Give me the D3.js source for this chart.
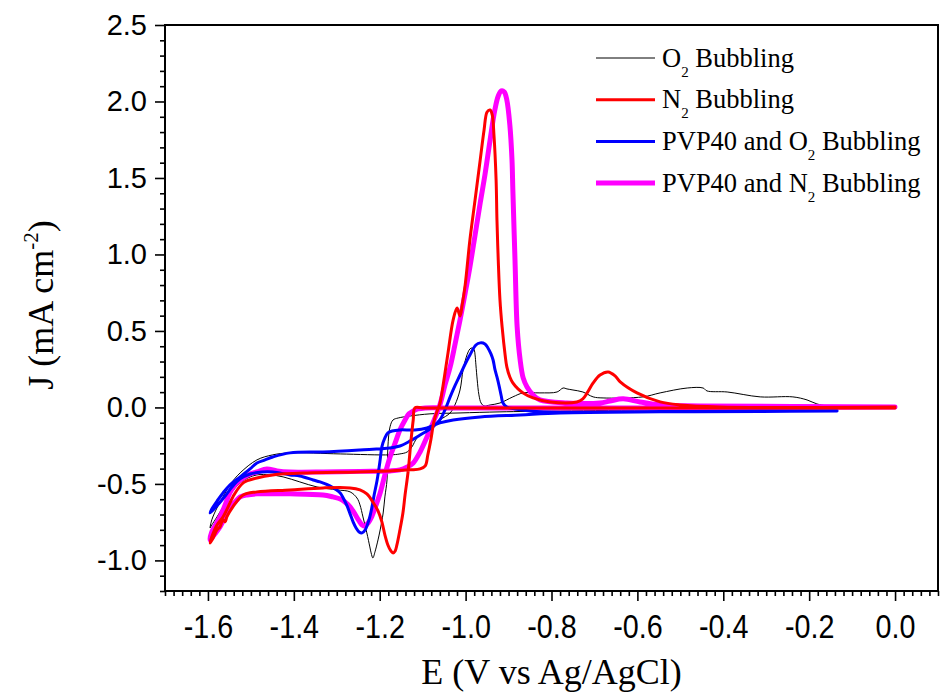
<!DOCTYPE html>
<html>
<head>
<meta charset="utf-8">
<script src="https://cdn.jsdelivr.net/npm/d3@7"></script>
<style>
  body { margin: 0; background: #fff; }
  svg { display: block; }
</style>
</head>
<body>
<svg id="chart" width="940" height="693"></svg>
<script>
// Axis ticks
const xTickValues = [-1.6, -1.4, -1.2, -1.0, -0.8, -0.6, -0.4, -0.2, 0.0];
const yTickValues = [-1.0, -0.5, 0.0, 0.5, 1.0, 1.5, 2.0, 2.5];

// Legend labels split as [text, subscript, text]
const seriesLabels = [
  ["O", "2", " Bubbling"],
  ["N", "2", " Bubbling"],
  ["PVP40 and O", "2", " Bubbling"],
  ["PVP40 and N", "2", " Bubbling"]
];

// Cyclic voltammograms: [E (V vs Ag/AgCl), J (mA cm^-2)], cathodic sweep then anodic return
const o2Bubbling = [
  [0.000, 0.003], [-0.158, -0.003], [-0.314, -0.010], [-0.547, -0.016], [-0.780, -0.023],
  [-0.920, -0.029], [-1.013, -0.036], [-1.083, -0.042], [-1.129, -0.056], [-1.157, -0.069],
  [-1.169, -0.082], [-1.176, -0.127], [-1.181, -0.258], [-1.183, -0.474], [-1.188, -0.585],
  [-1.192, -0.690], [-1.199, -0.801], [-1.204, -0.866], [-1.211, -0.944], [-1.216, -0.984],
  [-1.220, -0.951], [-1.223, -0.912], [-1.230, -0.820], [-1.239, -0.716], [-1.246, -0.637],
  [-1.253, -0.592], [-1.269, -0.552], [-1.299, -0.539], [-1.346, -0.520], [-1.386, -0.487],
  [-1.425, -0.454], [-1.455, -0.441], [-1.486, -0.441], [-1.507, -0.461], [-1.525, -0.493],
  [-1.549, -0.572], [-1.565, -0.650], [-1.579, -0.716], [-1.591, -0.768], [-1.595, -0.788],
  [-1.591, -0.735], [-1.579, -0.657], [-1.565, -0.585], [-1.549, -0.507], [-1.525, -0.428],
  [-1.486, -0.343], [-1.449, -0.310], [-1.409, -0.297], [-1.292, -0.304], [-1.176, -0.310],
  [-1.153, -0.304], [-1.136, -0.291], [-1.125, -0.258], [-1.113, -0.199], [-1.090, -0.147],
  [-1.060, -0.082], [-1.036, -0.036], [-1.025, 0.016], [-1.013, 0.114], [-1.006, 0.245],
  [-0.999, 0.324], [-0.994, 0.363], [-0.990, 0.382], [-0.985, 0.389], [-0.980, 0.376],
  [-0.978, 0.343], [-0.976, 0.278], [-0.973, 0.180], [-0.969, 0.082], [-0.964, 0.029],
  [-0.957, 0.010], [-0.943, 0.016], [-0.920, 0.029], [-0.890, 0.069], [-0.866, 0.095],
  [-0.827, 0.095], [-0.787, 0.101], [-0.773, 0.127], [-0.764, 0.121], [-0.750, 0.114],
  [-0.727, 0.101], [-0.703, 0.069], [-0.680, 0.062], [-0.587, 0.069], [-0.547, 0.095],
  [-0.484, 0.127], [-0.447, 0.127], [-0.438, 0.108], [-0.391, 0.101], [-0.314, 0.069],
  [-0.238, 0.069], [-0.205, 0.049], [-0.182, 0.023], [-0.158, 0.010], [-0.105, 0.003],
  [0.000, 0.003]
];

const n2Bubbling = [
  [0.000, -0.003], [-0.400, -0.003], [-0.800, -0.003], [-1.000, -0.003], [-1.100, -0.003],
  [-1.118, -0.003], [-1.122, -0.082], [-1.127, -0.212], [-1.134, -0.422], [-1.141, -0.572],
  [-1.146, -0.690], [-1.153, -0.801], [-1.160, -0.899], [-1.164, -0.938], [-1.169, -0.951],
  [-1.174, -0.938], [-1.181, -0.899], [-1.188, -0.833], [-1.195, -0.748], [-1.204, -0.676],
  [-1.216, -0.618], [-1.230, -0.565], [-1.246, -0.539], [-1.269, -0.526], [-1.332, -0.526],
  [-1.409, -0.539], [-1.486, -0.552], [-1.518, -0.572], [-1.542, -0.650], [-1.556, -0.716],
  [-1.560, -0.748], [-1.565, -0.735], [-1.572, -0.781], [-1.579, -0.801], [-1.588, -0.853],
  [-1.595, -0.886],
  [-1.591, -0.846], [-1.579, -0.768], [-1.565, -0.716], [-1.553, -0.650], [-1.542, -0.585],
  [-1.518, -0.493], [-1.486, -0.461], [-1.449, -0.441], [-1.369, -0.428], [-1.253, -0.422],
  [-1.176, -0.415], [-1.129, -0.408], [-1.106, -0.402], [-1.094, -0.382], [-1.088, -0.310],
  [-1.081, -0.212], [-1.074, -0.095], [-1.067, -0.029], [-1.060, 0.023], [-1.053, 0.134],
  [-1.041, 0.356], [-1.029, 0.572], [-1.020, 0.650], [-1.013, 0.598], [-1.008, 0.670],
  [-1.001, 0.801], [-0.990, 1.095], [-0.978, 1.356], [-0.966, 1.618], [-0.957, 1.814],
  [-0.950, 1.931], [-0.943, 1.944], [-0.938, 1.912], [-0.934, 1.781], [-0.929, 1.487],
  [-0.927, 1.225], [-0.924, 0.964], [-0.920, 0.703], [-0.915, 0.526], [-0.908, 0.343],
  [-0.904, 0.265], [-0.897, 0.199], [-0.890, 0.160], [-0.878, 0.121], [-0.866, 0.095],
  [-0.843, 0.062], [-0.803, 0.036], [-0.741, 0.036], [-0.727, 0.056], [-0.717, 0.095],
  [-0.703, 0.160], [-0.687, 0.212], [-0.668, 0.232], [-0.652, 0.206], [-0.640, 0.167],
  [-0.601, 0.095], [-0.547, 0.036], [-0.501, 0.016], [-0.408, 0.003], [0.000, 0.003]
];

const pvpO2Bubbling = [
  [-0.135, -0.023], [-0.314, -0.026], [-0.547, -0.029], [-0.780, -0.036], [-0.873, -0.049],
  [-0.966, -0.062], [-1.029, -0.082], [-1.060, -0.101], [-1.090, -0.134], [-1.118, -0.147],
  [-1.153, -0.147], [-1.171, -0.154], [-1.181, -0.167], [-1.188, -0.199], [-1.195, -0.258],
  [-1.199, -0.343], [-1.206, -0.474], [-1.213, -0.572], [-1.218, -0.650], [-1.225, -0.735],
  [-1.234, -0.801], [-1.241, -0.820], [-1.248, -0.814], [-1.255, -0.788], [-1.262, -0.748],
  [-1.269, -0.696], [-1.276, -0.644], [-1.285, -0.592], [-1.292, -0.559], [-1.304, -0.533],
  [-1.316, -0.513], [-1.339, -0.487], [-1.355, -0.474], [-1.386, -0.448], [-1.409, -0.441],
  [-1.449, -0.422], [-1.474, -0.422], [-1.502, -0.435], [-1.525, -0.467], [-1.544, -0.520],
  [-1.560, -0.579], [-1.577, -0.637], [-1.595, -0.690],
  [-1.591, -0.664], [-1.577, -0.605], [-1.565, -0.559], [-1.549, -0.507], [-1.525, -0.454],
  [-1.502, -0.402], [-1.486, -0.363], [-1.467, -0.343], [-1.449, -0.324], [-1.409, -0.297],
  [-1.332, -0.291], [-1.246, -0.278], [-1.176, -0.265], [-1.153, -0.252], [-1.129, -0.219],
  [-1.106, -0.180], [-1.090, -0.154], [-1.076, -0.127], [-1.060, -0.082], [-1.048, -0.016],
  [-1.036, 0.069], [-1.025, 0.141], [-1.013, 0.212], [-1.001, 0.284], [-0.990, 0.343],
  [-0.976, 0.408], [-0.966, 0.422], [-0.955, 0.415], [-0.948, 0.389], [-0.941, 0.350],
  [-0.936, 0.310], [-0.932, 0.252], [-0.927, 0.199], [-0.922, 0.141], [-0.917, 0.075],
  [-0.913, 0.029], [-0.904, 0.003], [-0.885, -0.010], [-0.850, -0.023], [-0.780, -0.033],
  [-0.547, -0.027], [-0.314, -0.024], [-0.135, -0.021]
];

const pvpN2Bubbling = [
  [0.000, 0.003], [-0.454, -0.003], [-0.780, -0.003], [-1.036, -0.003], [-1.094, -0.003],
  [-1.111, -0.010], [-1.122, -0.023], [-1.132, -0.042], [-1.141, -0.082], [-1.153, -0.147],
  [-1.164, -0.232], [-1.176, -0.324], [-1.188, -0.441], [-1.199, -0.559], [-1.211, -0.657],
  [-1.220, -0.722], [-1.227, -0.755], [-1.234, -0.775], [-1.241, -0.768], [-1.248, -0.742],
  [-1.258, -0.696], [-1.269, -0.650], [-1.281, -0.618], [-1.292, -0.598], [-1.309, -0.585],
  [-1.332, -0.572], [-1.409, -0.565], [-1.486, -0.565], [-1.509, -0.572], [-1.525, -0.585],
  [-1.537, -0.618], [-1.549, -0.650], [-1.560, -0.716], [-1.572, -0.781], [-1.584, -0.827],
  [-1.595, -0.866],
  [-1.591, -0.814], [-1.581, -0.761], [-1.572, -0.716], [-1.560, -0.637], [-1.549, -0.559],
  [-1.535, -0.500], [-1.518, -0.461], [-1.502, -0.435], [-1.486, -0.422], [-1.463, -0.402],
  [-1.439, -0.415], [-1.409, -0.422], [-1.332, -0.422], [-1.246, -0.418], [-1.176, -0.415],
  [-1.153, -0.408], [-1.136, -0.389], [-1.122, -0.363], [-1.106, -0.291], [-1.090, -0.193],
  [-1.076, -0.101], [-1.060, 0.016], [-1.048, 0.147], [-1.036, 0.265], [-1.025, 0.408],
  [-1.013, 0.572], [-1.001, 0.748], [-0.990, 0.918], [-0.978, 1.127], [-0.966, 1.337],
  [-0.955, 1.520], [-0.943, 1.748], [-0.932, 1.944], [-0.924, 2.036], [-0.917, 2.069],
  [-0.910, 2.062], [-0.904, 2.010], [-0.897, 1.846], [-0.892, 1.618], [-0.890, 1.422],
  [-0.885, 0.964], [-0.880, 0.526], [-0.873, 0.310], [-0.866, 0.193], [-0.857, 0.134],
  [-0.843, 0.082], [-0.827, 0.049], [-0.764, 0.029], [-0.687, 0.029], [-0.664, 0.042],
  [-0.633, 0.056], [-0.594, 0.036], [-0.547, 0.016], [-0.454, 0.010], [0.000, 0.003]
];

const seriesData = [o2Bubbling, n2Bubbling, pvpO2Bubbling, pvpN2Bubbling];
const seriesColors = ["#000000", "#ff0000", "#0000ff", "#ff00ff"];
const seriesWidths = [1, 3, 3, 5];
const drawOrder = [0, 3, 2, 1];

const svg = d3.select("#chart");
const plot = { left: 165, right: 938, top: 25, bottom: 591 };

const x = d3.scaleLinear().domain([-1.7, 0.1]).range([plot.left, plot.right]);
const y = d3.scaleLinear().domain([-1.2, 2.5]).range([plot.bottom, plot.top]);

// Minor ticks
const xMinor = d3.range(-1.70, 0.1001, 0.02).map(v => +v.toFixed(2))
  .filter(v => !xTickValues.some(t => Math.abs(t - v) < 1e-6));
const yMinor = d3.range(-1.2, 2.5001, 0.1).map(v => +v.toFixed(1))
  .filter(v => !yTickValues.some(t => Math.abs(t - v) < 1e-6));

svg.append("g")
  .attr("transform", `translate(0,${plot.bottom})`)
  .call(d3.axisBottom(x).tickValues(xMinor).tickSize(5).tickFormat(""))
  .call(g => g.select(".domain").remove())
  .selectAll("line").attr("stroke", "#000").attr("stroke-width", 1.6);

svg.append("g")
  .attr("transform", `translate(${plot.left},0)`)
  .call(d3.axisLeft(y).tickValues(yMinor).tickSize(5).tickFormat(""))
  .call(g => g.select(".domain").remove())
  .selectAll("line").attr("stroke", "#000").attr("stroke-width", 1.6);

const xAxis = svg.append("g")
  .attr("transform", `translate(0,${plot.bottom})`)
  .call(d3.axisBottom(x).tickValues(xTickValues).tickSize(10).tickPadding(14)
    .tickFormat(d3.format(".1f")))
  .call(g => g.select(".domain").remove());
xAxis.selectAll("line").attr("stroke", "#000").attr("stroke-width", 1.6);
xAxis.selectAll("text")
  .attr("font-family", "'Liberation Sans', Arial, sans-serif")
  .attr("font-size", 33)
  .attr("fill", "#000")
  .attr("transform", "scale(0.87,1)")
  .text(d => d3.format(".1f")(d).replace("−", "-"));

const yAxis = svg.append("g")
  .attr("transform", `translate(${plot.left},0)`)
  .call(d3.axisLeft(y).tickValues(yTickValues).tickSize(10).tickPadding(8)
    .tickFormat(d3.format(".1f")))
  .call(g => g.select(".domain").remove());
yAxis.selectAll("line").attr("stroke", "#000").attr("stroke-width", 1.6);
yAxis.selectAll("text")
  .attr("font-family", "'Liberation Sans', Arial, sans-serif")
  .attr("font-size", 29)
  .attr("fill", "#000")
  .text(d => d3.format(".1f")(d).replace("−", "-"));

// Curves
const line = d3.line()
  .x(d => x(d[0]))
  .y(d => y(d[1]))
  .curve(d3.curveCatmullRom.alpha(0.5));

drawOrder.forEach(i => {
  svg.append("path")
    .datum(seriesData[i])
    .attr("fill", "none")
    .attr("stroke", seriesColors[i])
    .attr("stroke-width", seriesWidths[i])
    .attr("stroke-linejoin", "round")
    .attr("stroke-linecap", "round")
    .attr("d", line);
});

// Frame
svg.append("rect")
  .attr("x", plot.left).attr("y", plot.top)
  .attr("width", plot.right - plot.left).attr("height", plot.bottom - plot.top)
  .attr("fill", "none").attr("stroke", "#000").attr("stroke-width", 2);

// Legend
const legend = svg.append("g").attr("font-family", "'Liberation Serif', 'Times New Roman', serif");
seriesLabels.forEach((parts, i) => {
  const ly = 58 + i * 41.7;
  legend.append("line")
    .attr("x1", 596).attr("x2", 655).attr("y1", ly).attr("y2", ly)
    .attr("stroke", seriesColors[i]).attr("stroke-width", seriesWidths[i]);
  const t = legend.append("text").attr("x", 662).attr("y", ly + 8.5)
    .attr("font-size", 26.5).attr("fill", "#000");
  t.append("tspan").text(parts[0]);
  t.append("tspan").attr("font-size", 15).attr("dy", 10).text(parts[1]);
  t.append("tspan").attr("dy", -10).text(parts[2]);
});

// Axis titles
svg.append("text")
  .attr("x", (plot.left + plot.right) / 2).attr("y", 684)
  .attr("text-anchor", "middle")
  .attr("font-family", "'Liberation Serif', 'Times New Roman', serif")
  .attr("font-size", 36).attr("fill", "#000")
  .text("E (V vs Ag/AgCl)");

const yTitle = svg.append("text")
  .attr("transform", `translate(53,305) rotate(-90)`)
  .attr("text-anchor", "middle")
  .attr("font-family", "'Liberation Serif', 'Times New Roman', serif")
  .attr("font-size", 36).attr("fill", "#000");
yTitle.append("tspan").text("J (mA cm");
yTitle.append("tspan").attr("font-size", 21).attr("dy", -15).text("-2");
yTitle.append("tspan").attr("dy", 15).text(")");
</script>
</body>
</html>
